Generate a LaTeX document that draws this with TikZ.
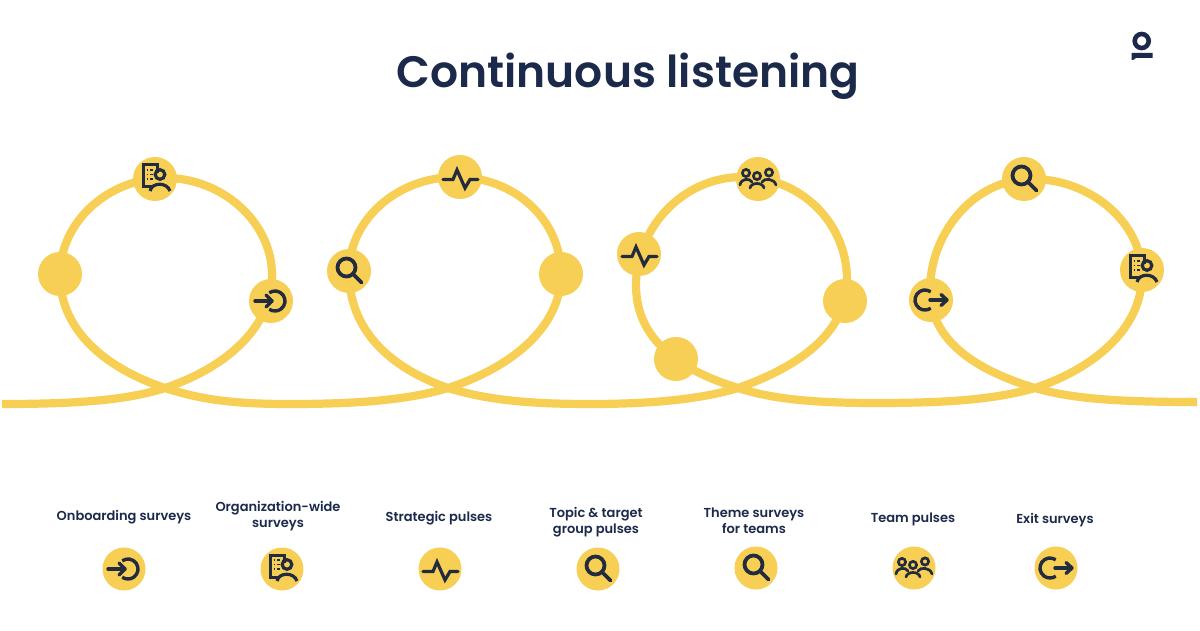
\documentclass[tikz,border=0pt]{standalone}
\usepackage{fontspec}
\setmainfont{Poppins}[UprightFont={* Medium},BoldFont={* SemiBold}]
\definecolor{ylw}{HTML}{F7CF55}
\definecolor{navy}{HTML}{1B2A4A}
\definecolor{ink}{HTML}{232B3E}
\tikzset{
  x=1pt,y=1pt,
  dot/.style={circle,fill=ylw,minimum size=44pt,inner sep=0pt},
  dotsm/.style={circle,fill=ylw,minimum size=43pt,inner sep=0pt},
  lab/.style={text=navy,align=center,font=\fontsize{13}{16}\selectfont\bfseries,inner sep=0pt},
  ic/.style={draw=ink,line width=3.4pt,fill=none},
  pics/ienter/.style={code={
    \draw[ic] (4,0) ++(125:10) arc (125:-125:10);
    \draw[ic,line cap=round] (-16,0) -- (1,0);
    \draw[ic,line cap=round,line join=round] (-5,6) -- (1,0) -- (-5,-6);
  }},
  pics/iexit/.style={code={
    \draw[ic] (-6,0) ++(55:10) arc (55:305:10);
    \draw[ic,line cap=round] (-1,0) -- (15,0);
    \draw[ic,line cap=round,line join=round] (10,5.5) -- (16,0) -- (10,-5.5);
  }},
  pics/ipulse/.style={code={
    \draw[ic,line width=3.2pt,line cap=round,line join=miter] (-17,-2.5) -- (-7,-2.5) -- (-3,7) -- (5,-11) -- (10,-2.5) -- (18,-2.5);
  }},
  pics/isearch/.style={code={
    \draw[ic,line width=3.8pt] (-2.5,3.5) circle (9);
    \draw[ic,line width=3.8pt,line cap=round] (4,-3) -- (12.5,-11.5);
  }},
  pics/iteam/.style={code={
    \draw[ic,line width=2.7pt] (-12,6) circle (3.6) (-1,3) circle (3.6) (11,6.5) circle (3.6);
    \draw[ic,line width=2.7pt,line cap=round] (-18,-6) .. controls (-17,1) and (-8,1) .. (-6,-3);
    \draw[ic,line width=2.7pt,line cap=round] (-8,-9) .. controls (-7,-3) and (5,-3) .. (6,-9);
    \draw[ic,line width=2.7pt,line cap=round] (4,-3) .. controls (6,1) and (16,1) .. (18,-6);
  }},
  pics/ireport/.style={code={
    \draw[ic,line width=3pt,line join=miter] (2,6) -- (2,14) -- (-12,14) -- (-12,-8) -- (-3,-8);
    \draw[ic,line width=1.1pt] (-8.5,9) -- (-7,9) (-5,9) -- (-2,9) (-8.5,4.5) -- (-7,4.5) (-5,4.5) -- (-2,4.5) (-8.5,0) -- (-7,0) (-5,0) -- (-2.5,0);
    \draw[ic,line width=3.2pt] (5,4.5) circle (4.8);
    \draw[ic,line width=3.2pt] (-5,-12) .. controls (-3,-3) and (12,-3) .. (15,-12);
  }}
}
\begin{document}
\begin{tikzpicture}
\useasboundingbox (0,0) rectangle (1200,-631);
\fill[white] (0,0) rectangle (1200,-631);
% the looping line
\draw[ylw,line width=8.2pt,line join=round]
  (2,-404) .. controls (70,-404) and (125,-401) .. (165,-388)
  .. controls (225,-368) and (272,-328) .. (272,-275)
  .. controls (272,-222) and (222,-178) .. (166,-178)
  .. controls (108,-178) and (60,-222) .. (60,-275)
  .. controls (60,-330) and (105,-368) .. (165,-388)
  .. controls (205,-401) and (240,-404) .. (290,-404)
  .. controls (350,-404) and (405,-401) .. (448,-388)
  .. controls (510,-368) and (561,-328) .. (561,-274)
  .. controls (561,-220) and (515,-177) .. (456,-177)
  .. controls (397,-177) and (349,-220) .. (349,-272)
  .. controls (349,-330) and (390,-368) .. (448,-388)
  .. controls (490,-401) and (535,-404) .. (590,-404)
  .. controls (640,-404) and (695,-401) .. (738,-388)
  .. controls (795,-368) and (847,-335) .. (847,-280)
  .. controls (847,-222) and (800,-177) .. (742,-177)
  .. controls (683,-177) and (636,-228) .. (636,-285)
  .. controls (636,-340) and (680,-370) .. (738,-388)
  .. controls (775,-400) and (820,-403) .. (875,-403)
  .. controls (935,-403) and (990,-401) .. (1035,-388)
  .. controls (1095,-368) and (1142,-328) .. (1142,-275)
  .. controls (1142,-222) and (1090,-179) .. (1032,-179)
  .. controls (972,-179) and (930,-235) .. (930,-290)
  .. controls (930,-340) and (975,-370) .. (1035,-388)
  .. controls (1075,-400) and (1130,-402) .. (1197,-402);
% nodes on loop 1
\node[dot] (a1) at (60,-274) {};
\node[dot] (a2) at (155,-179) {}; \pic at (a2) {ireport};
\node[dot] (a3) at (271,-301) {}; \pic at (a3) {ienter};
% loop 2
\node[dot] (b1) at (349,-271) {}; \pic at (b1) {isearch};
\node[dot] (b2) at (460,-177) {}; \pic at (b2) {ipulse};
\node[dot] (b3) at (561,-274) {};
% loop 3
\node[dot] (c1) at (639,-254) {}; \pic at (c1) {ipulse};
\node[dot] (c2) at (758,-179) {}; \pic at (c2) {iteam};
\node[dot] (c3) at (845,-301) {};
\node[dot] (c4) at (676,-359) {};
% loop 4
\node[dot] (d1) at (931,-300) {}; \pic at (d1) {iexit};
\node[dot] (d2) at (1024,-179) {}; \pic at (d2) {isearch};
\node[dot] (d3) at (1142,-270) {}; \pic at (d3) {ireport};
% title and logo
\node[text=navy,font=\fontsize{44}{48}\selectfont\bfseries,inner sep=0pt] (title) at (628,-76) {Continuous listening};
\draw[navy,line width=4.6pt] (1141.7,-41) circle (7);
\fill[navy] (1131.5,-53) -- (1152.5,-53) -- (1152.5,-58) -- (1136,-58) -- (1133,-60) -- (1131.5,-60) -- cycle;
% legend
\node[lab] (l1) at (124,-517) {Onboarding surveys};
\node[lab] (l2) at (278,-516) {Organization-wide\\surveys};
\node[lab] (l3) at (439,-518) {Strategic pulses};
\node[lab] (l4) at (596,-522) {Topic \& target\\group pulses};
\node[lab] (l5) at (754,-521) {Theme surveys\\for teams};
\node[lab] (l6) at (913,-519) {Team pulses};
\node[lab] (l7) at (1055,-520) {Exit surveys};
\node[dotsm] (i1) at (124,-569) {}; \pic at (i1) {ienter};
\node[dotsm] (i2) at (282,-569) {}; \pic at (i2) {ireport};
\node[dotsm] (i3) at (440,-569) {}; \pic at (i3) {ipulse};
\node[dotsm] (i4) at (598,-569) {}; \pic at (i4) {isearch};
\node[dotsm] (i5) at (756,-568) {}; \pic at (i5) {isearch};
\node[dotsm] (i6) at (914,-568) {}; \pic at (i6) {iteam};
\node[dotsm] (i7) at (1056,-568) {}; \pic at (i7) {iexit};
\end{tikzpicture}
\end{document}
